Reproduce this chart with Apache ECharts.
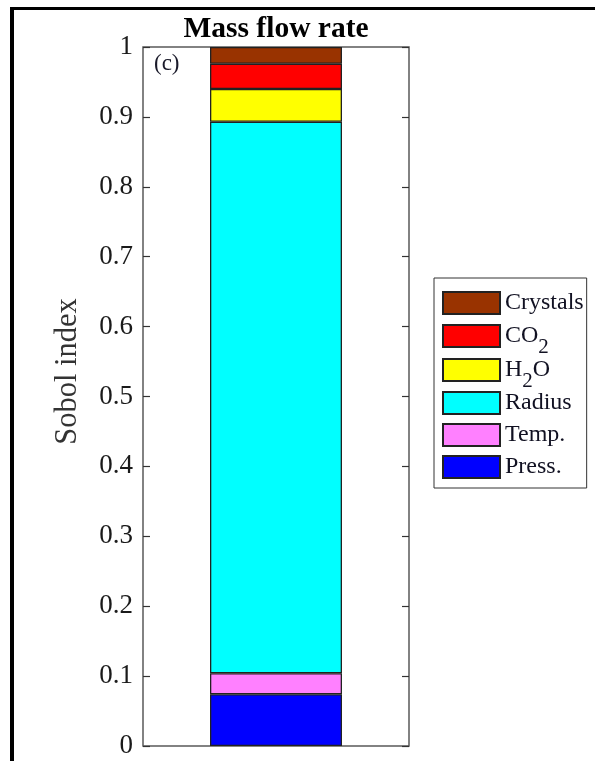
<!DOCTYPE html>
<html>
<head>
<meta charset="utf-8">
<script src="https://cdn.jsdelivr.net/npm/echarts@6/dist/echarts.min.js"></script>
<style>
  html, body { margin: 0; padding: 0; background: #ffffff; }
  #chart { width: 595px; height: 761px; }
</style>
</head>
<body>
<div id="chart"></div>
<script>
// Sobol sensitivity indices of the mass flow rate, stacked per input parameter
const categories = [''];
const seriesNames = ['Press.', 'Temp.', 'Radius', 'H2O', 'CO2', 'Crystals'];
const pressValues = [0.074];
const tempValues = [0.030];
const radiusValues = [0.789];
const h2oValues = [0.047];
const co2Values = [0.036];
const crystalsValues = [0.024];
const yTicks = { min: 0, max: 1, interval: 0.1 };

const seriesValues = [pressValues, tempValues, radiusValues, h2oValues, co2Values, crystalsValues];
const seriesColors = ['#0000ff', '#ff80ff', '#00ffff', '#ffff00', '#ff0000', '#993300'];

const serif = 'Liberation Serif';
const chart = echarts.init(document.getElementById('chart'), null, { renderer: 'canvas' });

// legend labels with subscripted digits for the chemical formulas
function legendLabel(name) {
  if (name === 'CO2') return '{m|CO}{s|2}';
  if (name === 'H2O') return '{m|H}{s|2}{m|O}';
  return '{m|' + name + '}';
}

const series = seriesNames.map((name, i) => ({
  name: name,
  type: 'bar',
  stack: 'sobol',
  barWidth: 132,
  data: seriesValues[i],
  itemStyle: { color: seriesColors[i], borderColor: '#222222', borderWidth: 1.3 },
  emphasis: { disabled: true },
  animation: false
}));

chart.setOption({
  animation: false,
  title: {
    text: 'Mass flow rate',
    left: 276,
    top: 14,
    textAlign: 'center',
    padding: 0,
    textStyle: { fontFamily: serif, fontWeight: 'bold', fontSize: 29.5, color: '#000000' }
  },
  grid: {
    left: 143, right: 186, top: 47, bottom: 15,
    show: true, borderColor: '#5a5a5a', borderWidth: 1.5, backgroundColor: 'transparent'
  },
  legend: {
    orient: 'vertical',
    left: 434,
    top: 278,
    data: seriesNames.slice().reverse(),
    icon: 'rect',
    itemWidth: 57,
    itemHeight: 22,
    itemGap: -10,
    padding: [4, 3, 0, 8],
    borderColor: '#333333',
    borderWidth: 1,
    backgroundColor: '#ffffff',
    selectedMode: false,
    formatter: legendLabel,
    textStyle: {
      color: '#111122',
      rich: {
        m: { fontFamily: serif, fontSize: 24, lineHeight: 24, padding: [9, 0, 9, 0], color: '#111122' },
        s: { fontFamily: serif, fontSize: 21, lineHeight: 20, padding: [23, 0, 0, 0], color: '#111122' }
      }
    }
  },
  xAxis: {
    type: 'category',
    data: categories,
    axisLine: { show: false },
    axisTick: { show: false },
    axisLabel: { show: false },
    splitLine: { show: false }
  },
  yAxis: [
    {
      type: 'value',
      min: yTicks.min, max: yTicks.max, interval: yTicks.interval,
      position: 'left',
      name: 'Sobol index',
      nameLocation: 'middle',
      nameGap: 60,
      nameRotate: 90,
      nameTextStyle: { fontFamily: serif, fontSize: 30.5, color: '#333333', padding: [0, 0, 0, 50] },
      axisLine: { show: false },
      axisTick: { show: true, inside: true, length: 7, lineStyle: { color: '#333333', width: 1.2 } },
      axisLabel: { fontFamily: serif, fontSize: 27, color: '#1a1a1a', margin: 10 },
      splitLine: { show: false }
    },
    {
      type: 'value',
      min: yTicks.min, max: yTicks.max, interval: yTicks.interval,
      position: 'right',
      axisLine: { show: false },
      axisTick: { show: true, inside: true, length: 7, lineStyle: { color: '#333333', width: 1.2 } },
      axisLabel: { show: false },
      splitLine: { show: false }
    }
  ],
  graphic: [
    { type: 'rect', left: 10, top: 7, shape: { width: 4, height: 754 }, style: { fill: '#000000' }, silent: true },
    { type: 'rect', left: 10, top: 7, shape: { width: 585, height: 3 }, style: { fill: '#000000' }, silent: true },
    {
      type: 'text', left: 154, top: 52, silent: true,
      style: { text: '(c)', fontFamily: serif, fontSize: 23, fill: '#1a1a2a' }
    }
  ],
  series: series
});
</script>
</body>
</html>
